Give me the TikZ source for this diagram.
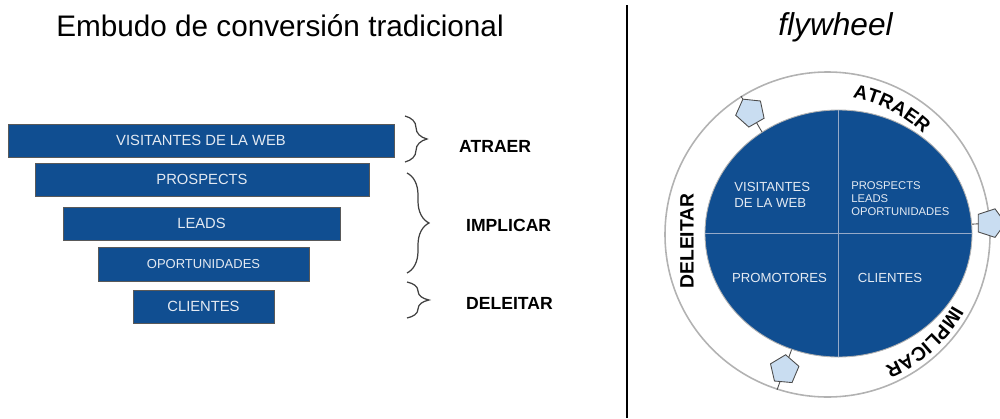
\documentclass[tikz,border=0pt]{standalone}
\usepackage{fontspec}
\setmainfont{Liberation Sans}
\usetikzlibrary{shapes.geometric,decorations.pathreplacing,decorations.text}

\definecolor{azulembudo}{RGB}{16,78,145}
\definecolor{textoclaro}{RGB}{228,234,242}
\definecolor{celeste}{RGB}{201,221,241}
\definecolor{lineacuarto}{RGB}{150,170,200}
\newcommand\anillo{\bfseries\fontsize{11}{13}\selectfont}

\begin{document}
\begin{tikzpicture}[
	barra/.style={rectangle, fill=azulembudo, draw=gray!70!black, line width=0.5pt, minimum height=0.66cm, inner sep=0pt, text=textoclaro, font=\fontsize{8.4}{10}\selectfont},
	llave/.style={decorate, decoration={brace, amplitude=0.44cm}, draw=gray!50!black, line width=0.7pt},
	etapa/.style={anchor=west, font=\bfseries\fontsize{10}{12}\selectfont},
	sector/.style={inner sep=0pt, text=textoclaro, font=\fontsize{7.5}{9.1}\selectfont},
	valv/.style={regular polygon, regular polygon sides=5, minimum size=0.6cm, inner sep=0pt, fill=celeste, draw=gray!60!black, line width=0.5pt},
	]
	\useasboundingbox (0,0) rectangle (20,8.36);

	% titulos y separador
	\node[anchor=base, font=\fontsize{16.9}{20}\selectfont] (titembudo) at (5.60,7.64) {Embudo de conversión tradicional};
	\node[anchor=base, font=\itshape\fontsize{18}{22}\selectfont] (titfly) at (16.71,7.66) {flywheel};
	\draw[line width=1.1pt] (12.54,8.26) -- (12.54,0);

	% embudo
	\node[barra, minimum width=7.72cm] (visitas) at (4.02,5.55) {VISITANTES DE LA WEB};
	\node[barra, minimum width=6.68cm] (prospects) at (4.04,4.77) {PROSPECTS};
	\node[barra, minimum width=5.54cm] (leads) at (4.03,3.89) {LEADS};
	\node[barra, minimum width=4.22cm, minimum height=0.68cm, font=\fontsize{7.4}{9}\selectfont] (oportunidades) at (4.07,3.07) {OPORTUNIDADES};
	\node[barra, minimum width=2.82cm] (clientes) at (4.07,2.23) {CLIENTES};

	\coordinate (l1a) at (8.10,6.04);
	\coordinate (l1b) at (8.10,5.12);
	\coordinate (l2a) at (8.14,4.90);
	\coordinate (l2b) at (8.14,2.90);
	\coordinate (l3a) at (8.14,2.72);
	\coordinate (l3b) at (8.14,2.00);
	\draw[llave] (l1a) -- (l1b);
	\draw[llave] (l2a) -- (l2b);
	\draw[llave] (l3a) -- (l3b);
	\node[etapa] (atraer) at (9.06,5.44) {ATRAER};
	\node[etapa] (implicar) at (9.20,3.86) {IMPLICAR};
	\node[etapa] (deleitar) at (9.20,2.30) {DELEITAR};

	% volante
	\node[circle, draw=gray!60, line width=0.9pt, minimum size=6.5cm, inner sep=0pt] (rueda) at (16.55,3.67) {};
	\node[ellipse, fill=azulembudo, draw=gray!60, line width=0.5pt, minimum width=5.34cm, minimum height=4.94cm, inner sep=0pt] (nucleo) at (16.77,3.69) {};
	\draw[lineacuarto, line width=0.6pt] (nucleo.north) -- (nucleo.south);
	\draw[lineacuarto, line width=0.6pt] (nucleo.west) -- (nucleo.east);

	\node[sector, anchor=west, align=left] (qvisitas) at (14.68,4.46) {VISITANTES\\DE LA WEB};
	\node[sector, anchor=west, align=left, font=\fontsize{6.4}{7.6}\selectfont] (qprospects) at (17.02,4.39) {PROSPECTS\\LEADS\\OPORTUNIDADES};
	\node[sector] (qpromotores) at (15.59,2.80) {PROMOTORES};
	\node[sector] (qclientes) at (17.80,2.80) {CLIENTES};

	% valvulas sobre el anillo
	\draw[gray!60!black, line width=0.5pt] (nucleo.127) -- node[valv, pos=0.55, rotate=30] (v1) {} (rueda.122);
	\draw[gray!60!black, line width=0.5pt] (nucleo.4) -- node[valv, pos=1, rotate=-90] (v2) {} (rueda.4);
	\draw[gray!60!black, line width=0.5pt] (nucleo.-112) -- node[valv, rotate=-5] (v3) {} (rueda.-108);

	% etiquetas del anillo
	\path[decorate, decoration={text along path, text align=center, text={|\anillo|ATRAER}}]
		([shift={(100:2.78)}]rueda.center) arc[start angle=100, end angle=26, radius=2.78];
	\path[decorate, decoration={text along path, text align=center, text={|\anillo|IMPLICAR}}]
		([shift={(-11:2.88)}]rueda.center) arc[start angle=-11, end angle=-85, radius=2.88];
	\node[rotate=90, font=\anillo] (rdeleitar) at (13.74,3.54) {DELEITAR};
\end{tikzpicture}
\end{document}
